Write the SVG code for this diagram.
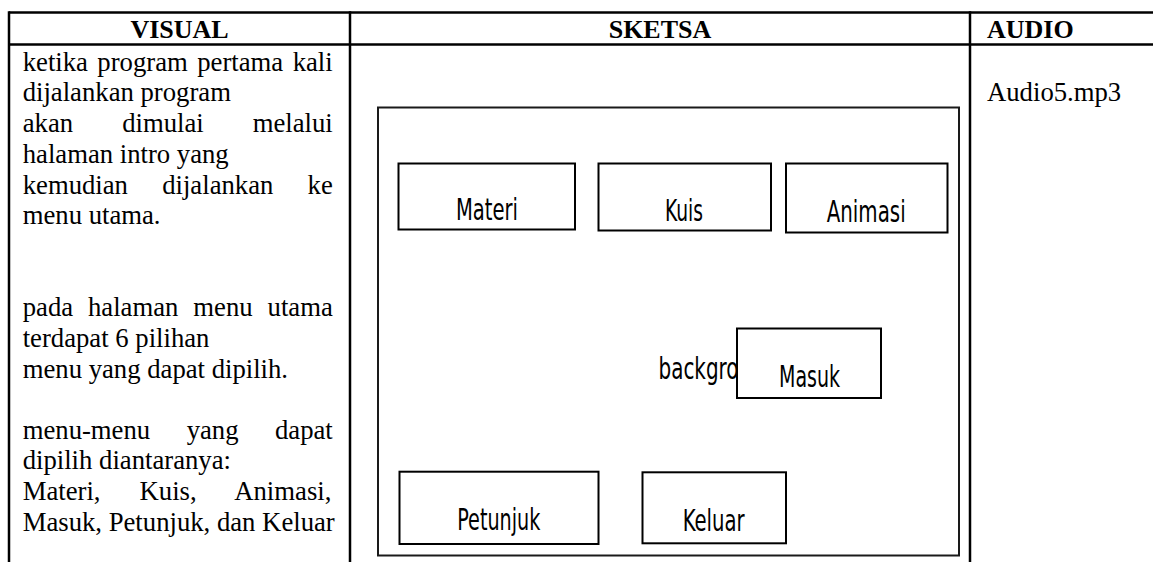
<svg xmlns="http://www.w3.org/2000/svg" width="1153" height="562" viewBox="0 0 1153 562">
  <style>
    .grid { stroke: #000; stroke-width: 2.5; fill: none; }
    .hdr { font-family: "Liberation Serif", "Times New Roman", serif; font-weight: bold; font-size: 26px; fill: #000; }
    .body { font-family: "Liberation Serif", "Times New Roman", serif; font-size: 26.7px; fill: #000; }
    .frame { fill: #fff; stroke: #1a1a1a; stroke-width: 2; }
    .box { fill: #fff; stroke: #000; stroke-width: 2; }
    .lbl { font-family: "DejaVu Sans Condensed", "DejaVu Sans", sans-serif; font-stretch: condensed; font-size: 31px; fill: #000; }
  </style>
  <rect width="1153" height="562" fill="#fff"/>

  <g id="table">
    <line class="grid" x1="9" y1="12.5" x2="1153" y2="12.5"/>
    <line class="grid" x1="9" y1="44.5" x2="1153" y2="44.5"/>
    <line class="grid" x1="9" y1="11.25" x2="9" y2="562"/>
    <line class="grid" x1="350" y1="11.25" x2="350" y2="562"/>
    <line class="grid" x1="970" y1="11.25" x2="970" y2="562"/>
    <text class="hdr" x="179.5" y="38" text-anchor="middle">VISUAL</text>
    <text class="hdr" x="660" y="38" text-anchor="middle">SKETSA</text>
    <text class="hdr" x="987" y="38">AUDIO</text>
  </g>

  <g id="visual-text" class="body">
    <text x="22.7" y="70.7" style="word-spacing:2.8px">ketika program pertama kali</text>
    <text x="22.7" y="101.4">dijalankan program</text>
    <text x="22.7" y="132.1" style="word-spacing:42.4px">akan dimulai melalui</text>
    <text x="22.7" y="162.8">halaman intro yang</text>
    <text x="22.7" y="193.5" style="word-spacing:27.6px">kemudian dijalankan ke</text>
    <text x="22.7" y="224.2">menu utama.</text>
    <text x="22.7" y="316.3" style="word-spacing:8.26px">pada halaman menu utama</text>
    <text x="22.7" y="347">terdapat 6 pilihan</text>
    <text x="22.7" y="377.7">menu yang dapat dipilih.</text>
    <text x="22.7" y="438.5" style="word-spacing:29.8px">menu-menu yang dapat</text>
    <text x="22.7" y="469.2">dipilih diantaranya:</text>
    <text x="22.7" y="499.9" style="word-spacing:32.4px">Materi, Kuis, Animasi,</text>
    <text x="22.7" y="530.6">Masuk, Petunjuk, dan Keluar</text>
  </g>

  <g id="audio-text" class="body">
    <text x="987" y="101">Audio5.mp3</text>
  </g>

  <g id="screen">
    <rect class="frame" x="378" y="107.5" width="581" height="448"/>
    <text class="lbl" x="658.5" y="379.3" textLength="80" lengthAdjust="spacingAndGlyphs">backgro</text>
  </g>

  <g id="node-materi">
    <rect class="box" x="398.5" y="163.5" width="176.5" height="66"/>
    <text class="lbl" x="456" y="219.5" textLength="62" lengthAdjust="spacingAndGlyphs">Materi</text>
  </g>
  <g id="node-kuis">
    <rect class="box" x="598.5" y="163.5" width="172.5" height="67"/>
    <text class="lbl" x="665" y="220.7" textLength="38" lengthAdjust="spacingAndGlyphs">Kuis</text>
  </g>
  <g id="node-animasi">
    <rect class="box" x="786" y="163.5" width="161.5" height="69"/>
    <text class="lbl" x="826.7" y="221.7" textLength="79" lengthAdjust="spacingAndGlyphs">Animasi</text>
  </g>
  <g id="node-masuk">
    <rect class="box" x="737" y="328.5" width="144" height="69.5"/>
    <text class="lbl" x="779" y="386.7" textLength="61" lengthAdjust="spacingAndGlyphs">Masuk</text>
  </g>
  <g id="node-petunjuk">
    <rect class="box" x="399.5" y="471.7" width="199" height="72.3"/>
    <text class="lbl" x="457.3" y="530" textLength="83" lengthAdjust="spacingAndGlyphs">Petunjuk</text>
  </g>
  <g id="node-keluar">
    <rect class="box" x="642.5" y="472.3" width="143.5" height="71"/>
    <text class="lbl" x="682.7" y="531" textLength="62" lengthAdjust="spacingAndGlyphs">Keluar</text>
  </g>

  <g id="connectors"/>
</svg>
